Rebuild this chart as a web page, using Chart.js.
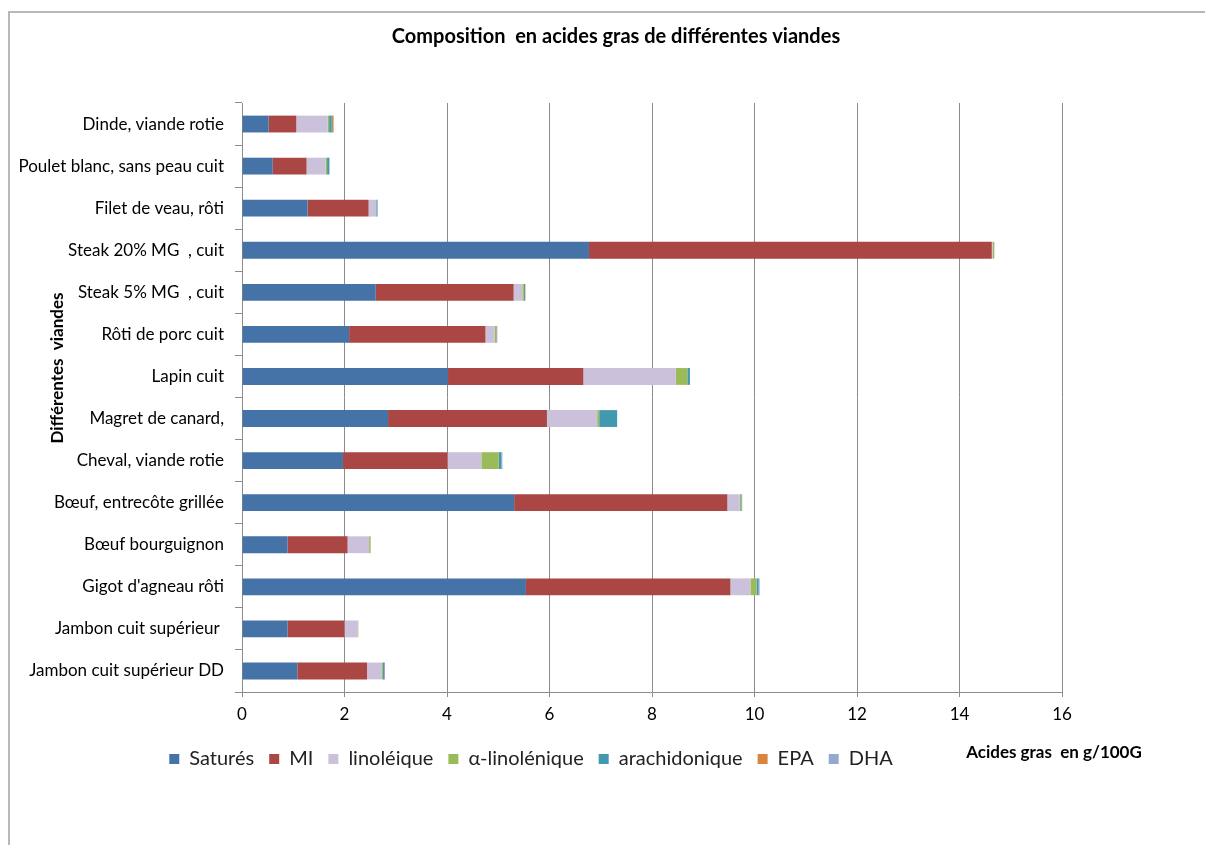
<!DOCTYPE html>
<html><head><meta charset="utf-8">
<script src="https://cdn.jsdelivr.net/npm/chart.js@4"></script>
<style>
html,body{margin:0;padding:0;background:#fff;overflow:hidden;}
#frame{position:absolute;left:8px;top:11px;width:1300px;height:1000px;border-left:2px solid #b8b8b8;border-top:2px solid #b8b8b8;}
#wrap{position:absolute;left:0;top:0;width:1205px;height:845px;}
</style></head><body>
<div id="frame"></div>
<div id="wrap"><canvas id="c" width="1205" height="845"></canvas></div>
<script>
const categories = ["Dinde, viande rotie", "Poulet blanc, sans peau cuit", "Filet de veau, rôti", "Steak 20% MG  , cuit", "Steak 5% MG  , cuit", "Rôti de porc cuit", "Lapin cuit", "Magret de canard,", "Cheval, viande rotie", "Bœuf, entrecôte grillée", "Bœuf bourguignon", "Gigot d'agneau rôti", "Jambon cuit supérieur ", "Jambon cuit supérieur DD"];
const seriesNames = ["Saturés", "MI", "linoléique", "α-linolénique", "arachidonique", "EPA", "DHA"];
const satures = [0.52, 0.60, 1.28, 6.77, 2.61, 2.09, 4.02, 2.85, 1.97, 5.31, 0.89, 5.54, 0.89, 1.08];
const mi = [0.54, 0.66, 1.19, 7.86, 2.69, 2.66, 2.64, 3.10, 2.04, 4.16, 1.17, 3.99, 1.11, 1.36];
const linoleique = [0.61, 0.37, 0.15, 0.02, 0.17, 0.18, 1.80, 0.98, 0.66, 0.24, 0.42, 0.39, 0.26, 0.29];
const alphaLinolenique = [0.03, 0.03, 0.00, 0.03, 0.03, 0.03, 0.23, 0.04, 0.34, 0.03, 0.03, 0.12, 0.01, 0.02];
const arachidonique = [0.05, 0.04, 0.02, 0.00, 0.02, 0.01, 0.05, 0.35, 0.05, 0.01, 0.00, 0.04, 0.00, 0.02];
const epa = [0.03, 0.00, 0.00, 0.00, 0.01, 0.01, 0.00, 0.00, 0.00, 0.00, 0.00, 0.00, 0.00, 0.00];
const dha = [0.01, 0.01, 0.01, 0.00, 0.00, 0.00, 0.00, 0.00, 0.02, 0.01, 0.00, 0.02, 0.00, 0.02];
const xTicks = [0, 2, 4, 6, 8, 10, 12, 14, 16];
const chartTitle = "Composition  en acides gras de différentes viandes";
const yTitle = "Différentes  viandes";
const xTitle = "Acides gras  en g/100G";

const colors = ["#4572A7", "#AA4643", "#CCC1DA", "#9BBB59", "#4198AF", "#DB843D", "#93A9CF"];
const values = [satures, mi, linoleique, alphaLinolenique, arachidonique, epa, dha];

Chart.defaults.font.family = "Lato, 'Open Sans', sans-serif";
Chart.defaults.color = "#000";

const extraText = {
  id: 'extraText',
  afterLayout(chart) {
    const t = chart.titleBlock;
    t.left += 85; t.right += 85;
  },
  afterDraw(chart) {
    const ctx = chart.ctx;
    ctx.save();
    ctx.fillStyle = '#000';
    ctx.font = "bold 17px Lato, sans-serif";
    ctx.textAlign = 'center';
    ctx.textBaseline = 'middle';
    ctx.translate(58, 368);
    ctx.rotate(-Math.PI / 2);
    ctx.fillText(yTitle, 0, 0);
    ctx.restore();
    ctx.save();
    ctx.fillStyle = '#000';
    ctx.font = "bold 17px Lato, sans-serif";
    ctx.textAlign = 'center';
    ctx.textBaseline = 'middle';
    ctx.fillText(xTitle, 1054, 753);
    ctx.restore();
  }
};

new Chart(document.getElementById('c'), {
  type: 'bar',
  data: {
    labels: categories,
    datasets: seriesNames.map((n, i) => ({
      label: n,
      data: values[i],
      backgroundColor: colors[i],
      borderWidth: 0,
      barPercentage: 0.8,
      categoryPercentage: 0.5
    }))
  },
  options: {
    indexAxis: 'y',
    responsive: false,
    animation: false,
    layout: { padding: { left: 0, right: 143, top: 0, bottom: 66 } },
    plugins: {
      title: {
        display: true,
        text: chartTitle,
        font: { size: 20, weight: 'bold' },
        padding: { top: 25, bottom: 54 }
      },
      legend: {
        position: 'bottom',
        labels: { boxWidth: 10, boxHeight: 10, padding: 15, font: { size: 20 }, color: '#222' }
      },
      tooltip: { enabled: false }
    },
    scales: {
      x: {
        stacked: true,
        min: 0, max: 16,
        afterBuildTicks(s) { s.ticks = xTicks.map(v => ({ value: v })); },
        afterFit(s) { s.height = 42; },
        ticks: { font: { size: 17 }, padding: 7, color: '#000' },
        grid: { color: '#8c8c8c', tickLength: 5, lineWidth: 1 },
        border: { display: true, color: '#8c8c8c' }
      },
      y: {
        stacked: true,
        afterFit(s) { s.width = 242; },
        ticks: { font: { size: 17 }, padding: 11, color: '#000' },
        grid: { drawOnChartArea: false, drawTicks: true, tickLength: 7, color: '#8c8c8c', offset: true },
        border: { display: true, color: '#8c8c8c' }
      }
    }
  },
  plugins: [extraText]
});
</script>
</body></html>
